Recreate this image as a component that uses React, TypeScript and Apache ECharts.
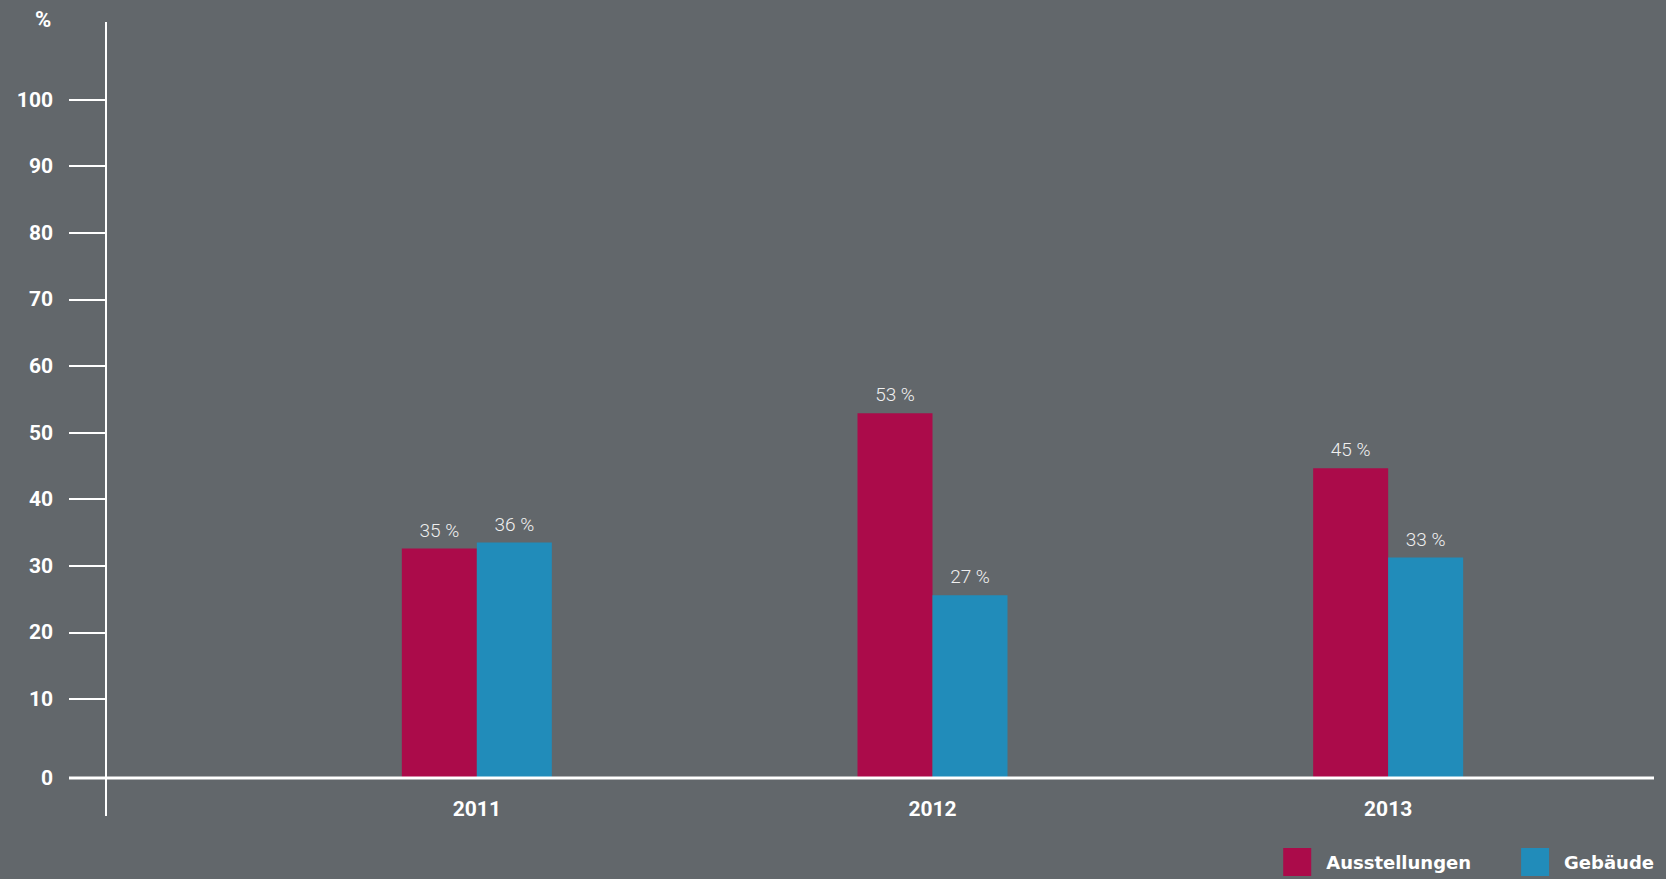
import React, { useEffect, useRef } from "react";
import * as echarts from "echarts";

const categories = ["2011", "2012", "2013"];
const seriesNames = ["Ausstellungen", "Gebäude"];
// bar heights as drawn in the picture (read against the 10..100 ticks)
const ausstellungenHeights = [32.6, 52.9, 44.65];
const gebaeudeHeights = [33.5, 25.6, 31.25];
// values printed above the bars
const ausstellungenLabels = [35, 53, 45];
const gebaeudeLabels = [36, 27, 33];
const yTickValues = [10, 20, 30, 40, 50, 60, 70, 80, 90, 100];
// the drawn baseline ("0") sits this many units below the tick scale's zero
const BASELINE = 1.85;

const BG = "#62676b";
const RED = "#ab0b4a";
const BLUE = "#218cba";
const FONT = "Roboto";

export default function App() {
  const ref = useRef<HTMLDivElement>(null);

  useEffect(() => {
    if (!ref.current) return;
    const chart = echarts.init(ref.current, null, { renderer: "svg" });
    const shifted = (arr: number[]) => arr.map((v) => v + BASELINE);
    const tickPositions = yTickValues.map((v) => v + BASELINE);

    const labelStyle = (labels: number[]) => ({
      show: true,
      position: "top" as const,
      distance: 9,
      color: "#f0f0f0",
      fontFamily: FONT,
      fontWeight: 300,
      fontSize: 19,
      formatter: (p: any) => `${labels[p.dataIndex]} %`,
    });

    chart.setOption({
      animation: false,
      backgroundColor: BG,
      title: {
        text: "%",
        left: 35,
        top: 8,
        padding: 0,
        textStyle: { color: "#fff", fontFamily: FONT, fontWeight: "bold", fontSize: 22 },
      },
      legend: {
        right: 12,
        top: 848,
        padding: 0,
        icon: "rect",
        itemWidth: 28,
        itemHeight: 28,
        itemGap: 50,
        data: seriesNames,
        textStyle: {
          color: "#fff",
          fontFamily: "DejaVu Sans",
          fontWeight: "bold",
          fontSize: 18,
          padding: [0, 0, 0, 10],
        },
      },
      grid: { left: 249, right: 50, top: 22, bottom: 101, containLabel: false },
      xAxis: {
        type: "category",
        data: categories,
        axisLine: { show: false },
        axisTick: { show: false },
        axisLabel: {
          color: "#fff",
          fontFamily: FONT,
          fontWeight: "bold",
          fontSize: 21,
          margin: 20,
        },
      },
      yAxis: {
        type: "value",
        min: 0,
        max: 113.5,
        offset: 143,
        splitLine: { show: false },
        axisLine: { show: false },
        axisTick: {
          show: true,
          length: 37,
          customValues: tickPositions,
          lineStyle: { color: "#fff", width: 2 },
        },
        axisLabel: {
          show: true,
          margin: 53,
          customValues: [0, ...tickPositions],
          color: "#fff",
          fontFamily: FONT,
          fontWeight: "bold",
          fontSize: 21,
          formatter: (v: number) => (v < 1 ? "0" : String(Math.round(v - BASELINE))),
        },
      },
      series: [
        {
          name: seriesNames[0],
          type: "bar",
          data: shifted(ausstellungenHeights),
          barWidth: 75,
          barGap: "0%",
          itemStyle: { color: RED },
          label: labelStyle(ausstellungenLabels),
        },
        {
          name: seriesNames[1],
          type: "bar",
          data: shifted(gebaeudeHeights),
          barWidth: 75,
          barGap: "0%",
          itemStyle: { color: BLUE },
          label: labelStyle(gebaeudeLabels),
        },
      ],
      graphic: [
        {
          type: "line",
          z: 100,
          shape: { x1: 106, y1: 22, x2: 106, y2: 816 },
          style: { stroke: "#fff", lineWidth: 2 },
        },
        {
          type: "line",
          z: 100,
          shape: { x1: 69, y1: 778, x2: 1654, y2: 778 },
          style: { stroke: "#fff", lineWidth: 3 },
        },
      ],
    });

    return () => chart.dispose();
  }, []);

  return (
    <div
      ref={ref}
      style={{ position: "fixed", left: 0, top: 0, width: 1666, height: 879 }}
    />
  );
}
